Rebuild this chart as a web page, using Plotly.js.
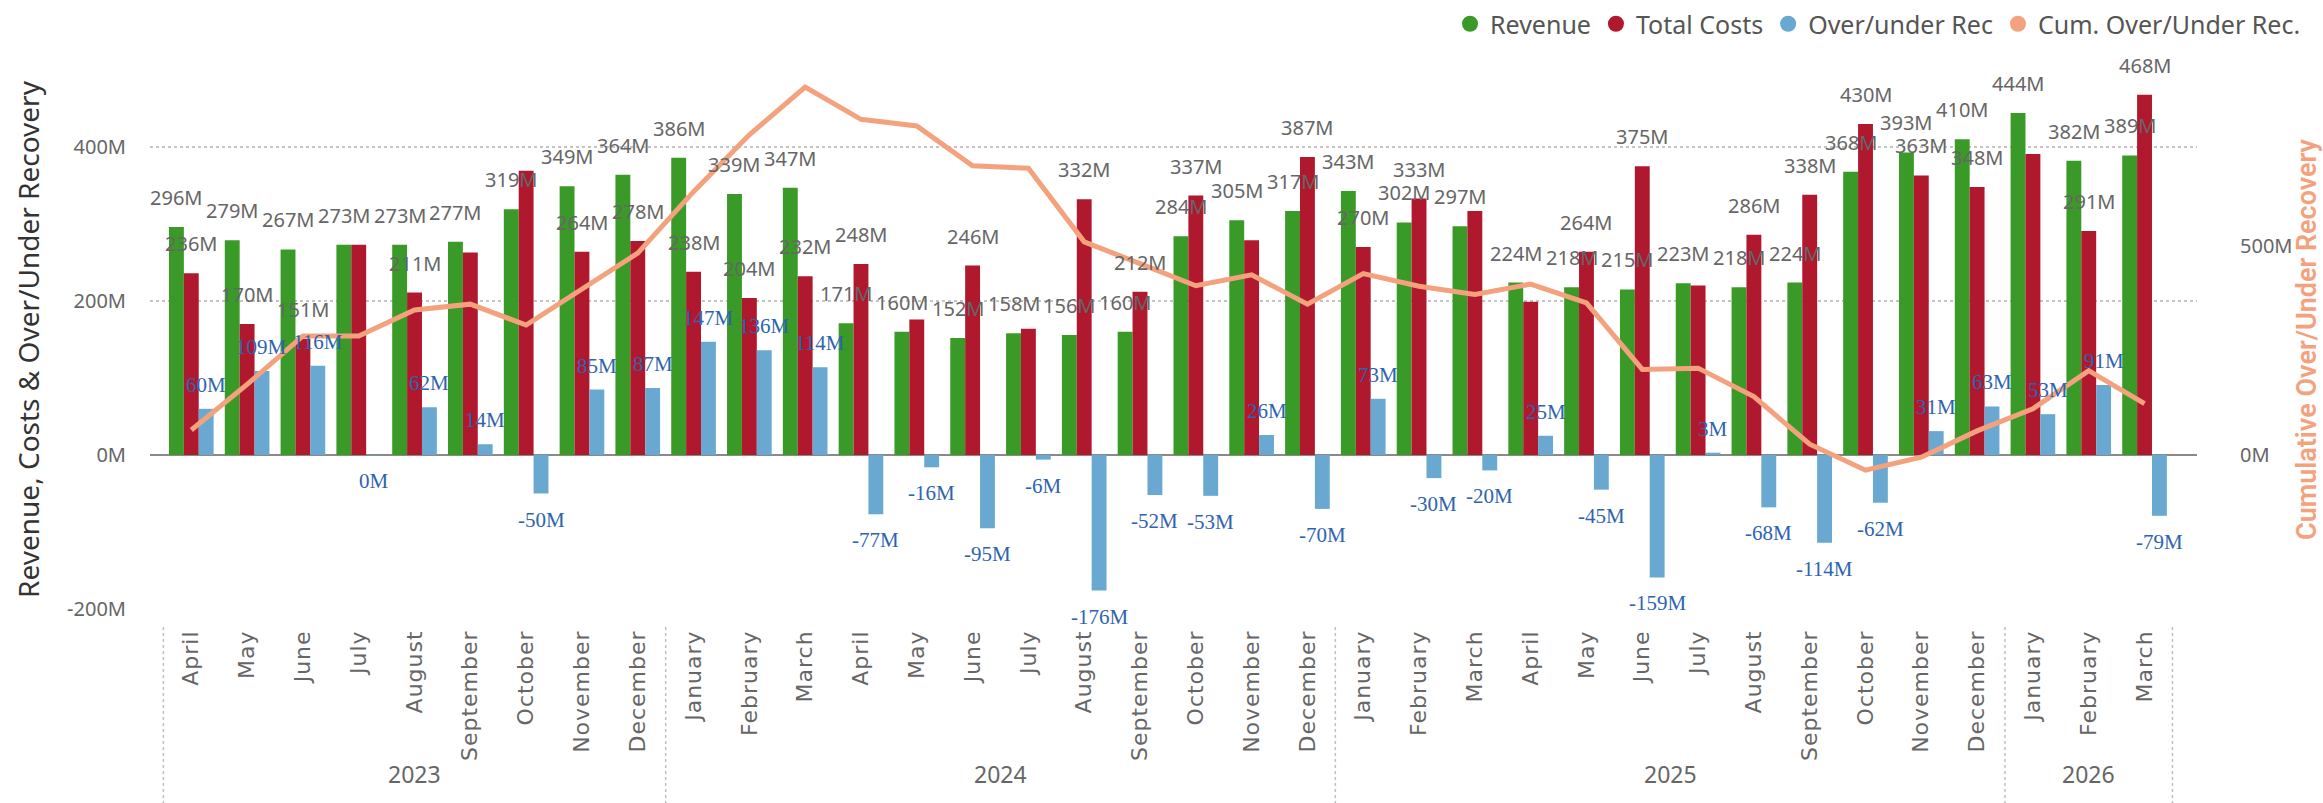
<!DOCTYPE html>
<html>
<head>
<meta charset="utf-8">
<script src="https://cdn.plot.ly/plotly-3.0.1.min.js"></script>
<style>
html,body{margin:0;padding:0;background:#ffffff;}
#chart{width:2323px;height:803px;}
#chart .xtick text{letter-spacing:1px;}
</style>
</head>
<body>
<div id="chart"></div>
<script>
// ---- Data (values in millions) ----
const years = [
  "2023","2023","2023","2023","2023","2023","2023","2023","2023",
  "2024","2024","2024","2024","2024","2024","2024","2024","2024","2024","2024","2024",
  "2025","2025","2025","2025","2025","2025","2025","2025","2025","2025","2025","2025",
  "2026","2026","2026"
];
const months = [
  "April","May","June","July","August","September","October","November","December",
  "January","February","March","April","May","June","July","August","September","October","November","December",
  "January","February","March","April","May","June","July","August","September","October","November","December",
  "January","February","March"
];
const revenue = [
  296,279,267,273,273,277,319,349,364,
  386,339,347,171,160,152,158,156,160,284,305,317,
  343,302,297,224,218,215,223,218,224,368,393,410,
  444,382,389
];
const totalCosts = [
  236,170,151,273,211,263,369,264,278,
  238,204,232,248,176,246,164,332,212,337,279,387,
  270,333,317,199,264,375,220,286,338,430,363,348,
  391,291,468
];
const overUnder = [
  60,109,116,-0.4,62,14,-50,85,87,
  147,136,114,-77,-16,-95,-6,-176,-52,-53,26,-70,
  73,-30,-20,25,-45,-159,3,-68,-114,-62,31,63,
  53,91,-79
];
const cumOverUnder = [
  60,169,285,285,347,361,311,396,483,
  630,766,880,803,787,692,686,510,458,405,431,361,
  434,404,384,409,364,205,208,140,26,-36,-5,58,
  111,202,123
];
const leftTicks = [-200, 0, 200, 400];
const rightTicks = [0, 500];
// indices of Total Costs data labels that the original hides (overlaps)
const hiddenCostLabels = [3,5,6,13,15,19,23,24,27,33];

const seriesNames = ["Revenue","Total Costs","Over/under Rec","Cum. Over/Under Rec."];
const seriesColors = ["#3A9A27","#B0182E","#68A8D1","#F4A27E"];

// ---- Build ----
const W = 2323, H = 803;
const M = {l: 150, r: 126, t: 70, b: 194};
const plotH = H - M.t - M.b;
const pyPaper = px => -(px - (H - M.b)) / plotH; // pixel row below plot -> paper y

const idx = months.map((_, i) => i);
const barW = 0.8 / 3;
const fmt = v => String(Math.round(v)) + "M";

const grayFont = {family: "Noto Sans, Open Sans, sans-serif", size: 20, color: "#666666"};
const blueFont = {family: "Liberation Serif, DejaVu Serif, serif", size: 21, color: "#2E63B0"};

const annotations = [];
function addLabel(x, v, font, gapUp, gapDown) {
  const pos = v >= 0;
  annotations.push({
    x: x, y: v, xref: "x", yref: "y", text: fmt(v), showarrow: false,
    font: font, xanchor: "center", yanchor: pos ? "bottom" : "top",
    yshift: pos ? gapUp : -gapDown
  });
}
idx.forEach(i => {
  addLabel(i - barW, revenue[i], grayFont, 14, 14);
  if (!hiddenCostLabels.includes(i)) addLabel(i, totalCosts[i], grayFont, 14, 14);
  addLabel(i + barW, overUnder[i], blueFont, 10, 12);
});

// year group labels and dividers
const uniqueYears = [...new Set(years)];
const shapes = [];
const divLine = {color: "#c0c0c0", width: 1.5, dash: "dot"};
uniqueYears.forEach((yr, k) => {
  const ids = idx.filter(i => years[i] === yr);
  const first = ids[0], last = ids[ids.length - 1];
  annotations.push({
    x: (first + last) / 2, y: pyPaper(774), xref: "x", yref: "paper", text: yr,
    showarrow: false, yanchor: "middle",
    font: {family: "Noto Sans, sans-serif", size: 23, color: "#666666"}
  });
  shapes.push({type: "line", xref: "x", yref: "paper", x0: first - 0.5, x1: first - 0.5,
    y0: pyPaper(627), y1: pyPaper(803), line: divLine});
  if (k === uniqueYears.length - 1) {
    shapes.push({type: "line", xref: "x", yref: "paper", x0: last + 0.5, x1: last + 0.5,
      y0: pyPaper(627), y1: pyPaper(803), line: divLine});
  }
});

const traces = [
  {type: "bar", name: seriesNames[0], x: idx, y: revenue, marker: {color: seriesColors[0]}, showlegend: false},
  {type: "bar", name: seriesNames[1], x: idx, y: totalCosts, marker: {color: seriesColors[1]}, showlegend: false},
  {type: "bar", name: seriesNames[2], x: idx, y: overUnder, marker: {color: seriesColors[2]}, showlegend: false},
  {type: "scatter", mode: "lines", name: seriesNames[3], x: idx, y: cumOverUnder, yaxis: "y2",
   line: {color: seriesColors[3], width: 5}, showlegend: false}
];
// legend entries (circle markers like the original)
seriesNames.forEach((n, k) => {
  traces.push({type: "scatter", mode: "markers", name: n, x: [null], y: [null],
    marker: {symbol: "circle", size: 22, color: seriesColors[k]}, showlegend: true, legendrank: k + 1});
});

const layout = {
  width: W, height: H,
  margin: M,
  paper_bgcolor: "#ffffff", plot_bgcolor: "#ffffff",
  barmode: "group", bargap: 0.2, bargroupgap: 0,
  showlegend: true,
  legend: {orientation: "h", xref: "container", yref: "container",
    x: 2306 / W, xanchor: "right", y: 1 - 24 / H, yanchor: "middle",
    font: {family: "Noto Sans, sans-serif", size: 25, color: "#555555"},
    itemwidth: 30, tracegroupgap: 0, bgcolor: "rgba(0,0,0,0)"},
  xaxis: {range: [-0.74, 35.94], tickmode: "array", tickvals: idx, ticktext: months, tickangle: -90,
    tickfont: {family: "DejaVu Sans, sans-serif", size: 22, color: "#666666"},
    showgrid: false, zeroline: false, showline: false, ticks: "", ticklabelstandoff: 16, fixedrange: true},
  yaxis: {range: [-200, 500], tickmode: "array", tickvals: leftTicks, ticktext: leftTicks.map(v => v + "M"),
    showgrid: true, griddash: "dot", gridcolor: "#c4c4c4", gridwidth: 1.5,
    zeroline: true, zerolinecolor: "#8a8a8a", zerolinewidth: 1.5, showline: false, ticks: "",
    tickfont: {family: "Noto Sans, sans-serif", size: 20, color: "#666666"}, ticklabelstandoff: 23,
    title: {text: "Revenue, Costs & Over/Under Recovery", standoff: 19,
      font: {family: "Noto Sans, sans-serif", size: 28, color: "#333333"}}},
  yaxis2: {overlaying: "y", side: "right", range: [-368, 921], tickmode: "array", tickvals: rightTicks,
    ticktext: rightTicks.map(v => v + "M"),
    showgrid: false, zeroline: false, showline: false, ticks: "",
    tickfont: {family: "Noto Sans, sans-serif", size: 20, color: "#666666"}, ticklabelstandoff: 42,
    title: {text: "Cumulative Over/Under Recovery", standoff: 24,
      font: {family: "Roboto, sans-serif", size: 27, color: "#F4A27E", weight: 600}}},
  annotations: annotations,
  shapes: shapes
};

Plotly.newPlot("chart", traces, layout, {displayModeBar: false, staticPlot: true});
</script>
</body>
</html>
